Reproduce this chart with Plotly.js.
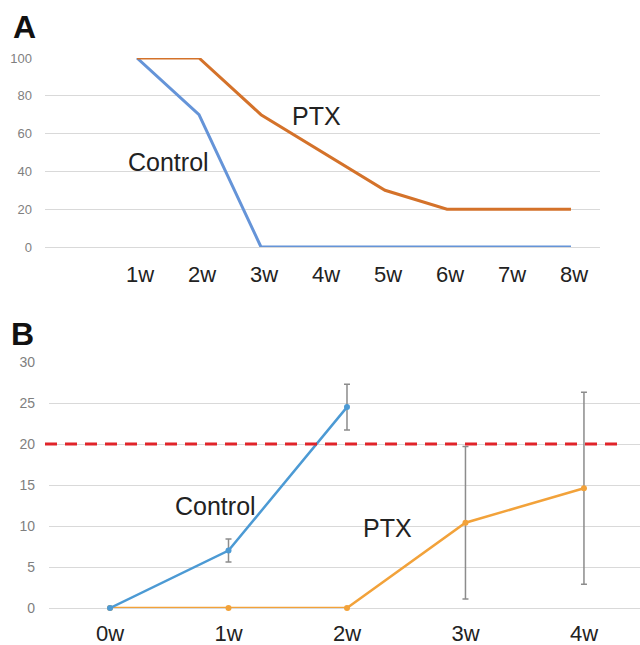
<!DOCTYPE html>
<html>
<head>
<meta charset="utf-8">
<script src="https://cdn.plot.ly/plotly-3.0.1.min.js"></script>
<style>html,body{margin:0;padding:0;background:#fff;}#chart{width:640px;height:645px;}</style>
</head>
<body>
<div id="chart"></div>
<script>
// Panel A data
var weeksA = ["1w", "2w", "3w", "4w", "5w", "6w", "7w", "8w"];
var controlA = [100, 70, 0, 0, 0, 0, 0, 0];
var ptxA = [100, 100, 70, 50, 30, 20, 20, 20];
var yTicksA = [0, 20, 40, 60, 80, 100];

// Panel B data
var weeksB = ["0w", "1w", "2w", "3w", "4w"];
var controlB = [0, 7, 24.5];
var controlBErr = [0, 1.4, 2.8];
var ptxB = [0, 0, 0, 10.4, 14.6];
var ptxBErr = [0, 0, 0, 9.3, 11.7];
var yTicksB = [0, 5, 10, 15, 20, 25, 30];
var threshold = 20;

var W = 640, H = 645;
function px(x) { return x / W; }
function py(y) { return 1 - y / H; }

var FONT = "Liberation Sans, Arial, sans-serif";

var traces = [
  {x: weeksA, y: controlA, xaxis: "x", yaxis: "y", mode: "lines", name: "Control",
   line: {color: "#6594d8", width: 3}, cliponaxis: false},
  {x: weeksA, y: ptxA, xaxis: "x", yaxis: "y", mode: "lines", name: "PTX",
   line: {color: "#d4722a", width: 3}, cliponaxis: false},
  {x: weeksB, y: ptxB, xaxis: "x2", yaxis: "y2", mode: "lines+markers", name: "PTX",
   line: {color: "#f2a23a", width: 2.5}, marker: {color: "#f2a23a", size: 6}, cliponaxis: false,
   error_y: {type: "data", array: ptxBErr, visible: true, color: "#8c8c8c", thickness: 1.5, width: 3}},
  {x: weeksB.slice(0, controlB.length), y: controlB, xaxis: "x2", yaxis: "y2", mode: "lines+markers", name: "Control",
   line: {color: "#4c9ad4", width: 2.5}, marker: {color: "#4c9ad4", size: 6}, cliponaxis: false,
   error_y: {type: "data", array: controlBErr, visible: true, color: "#8c8c8c", thickness: 1.5, width: 3}}
];

var gridColor = "#d9d9d9";
var layout = {
  width: W, height: H,
  margin: {l: 0, r: 0, t: 0, b: 0},
  paper_bgcolor: "#fff", plot_bgcolor: "#fff",
  showlegend: false,
  font: {family: FONT},
  xaxis: {domain: [px(45), px(600)], anchor: "y", type: "category", range: [-1.484, 7.468],
    showgrid: false, zeroline: false, showline: false, ticks: "",
    tickfont: {size: 22, color: "#222"}, ticklabelstandoff: 12, ticklabelshift: 3},
  yaxis: {domain: [py(247), py(58)], anchor: "x", range: [0, 100], tickvals: yTicksA,
    showgrid: true, gridcolor: gridColor, gridwidth: 1, zeroline: true, zerolinecolor: gridColor, zerolinewidth: 1,
    showline: false, ticks: "", tickfont: {size: 13, color: "#7f7f7f"}, ticklabelstandoff: 12},
  xaxis2: {domain: [px(49), 1], anchor: "y2", type: "category", range: [-0.515, 4.473],
    showgrid: false, zeroline: false, showline: false, ticks: "",
    tickfont: {size: 22, color: "#222"}, ticklabelstandoff: 10},
  yaxis2: {domain: [py(608), py(362)], anchor: "x2", range: [0, 30], tickvals: yTicksB,
    showgrid: true, gridcolor: gridColor, gridwidth: 1, zeroline: true, zerolinecolor: gridColor, zerolinewidth: 1,
    showline: false, ticks: "", tickfont: {size: 14, color: "#7f7f7f"}, ticklabelstandoff: 13},
  shapes: [
    {type: "line", xref: "paper", yref: "y2", x0: px(45), x1: px(622), y0: threshold, y1: threshold,
     line: {color: "#e0242a", width: 3, dash: "12px,8px"}}
  ],
  annotations: [
    {text: "<b>A</b>", xref: "paper", yref: "paper", x: px(24), y: py(27), xanchor: "center", yanchor: "middle",
     showarrow: false, font: {size: 32, color: "#111"}},
    {text: "<b>B</b>", xref: "paper", yref: "paper", x: px(22), y: py(334), xanchor: "center", yanchor: "middle",
     showarrow: false, font: {size: 32, color: "#111"}},
    {text: "PTX", xref: "paper", yref: "paper", x: px(316), y: py(116), xanchor: "center", yanchor: "middle",
     showarrow: false, font: {size: 25, color: "#222"}},
    {text: "Control", xref: "paper", yref: "paper", x: px(168), y: py(162), xanchor: "center", yanchor: "middle",
     showarrow: false, font: {size: 25, color: "#222"}},
    {text: "Control", xref: "paper", yref: "paper", x: px(215), y: py(506), xanchor: "center", yanchor: "middle",
     showarrow: false, font: {size: 25, color: "#222"}},
    {text: "PTX", xref: "paper", yref: "paper", x: px(387), y: py(528), xanchor: "center", yanchor: "middle",
     showarrow: false, font: {size: 25, color: "#222"}}
  ]
};

Plotly.newPlot("chart", traces, layout, {displayModeBar: false, staticPlot: true});
</script>
</body>
</html>
